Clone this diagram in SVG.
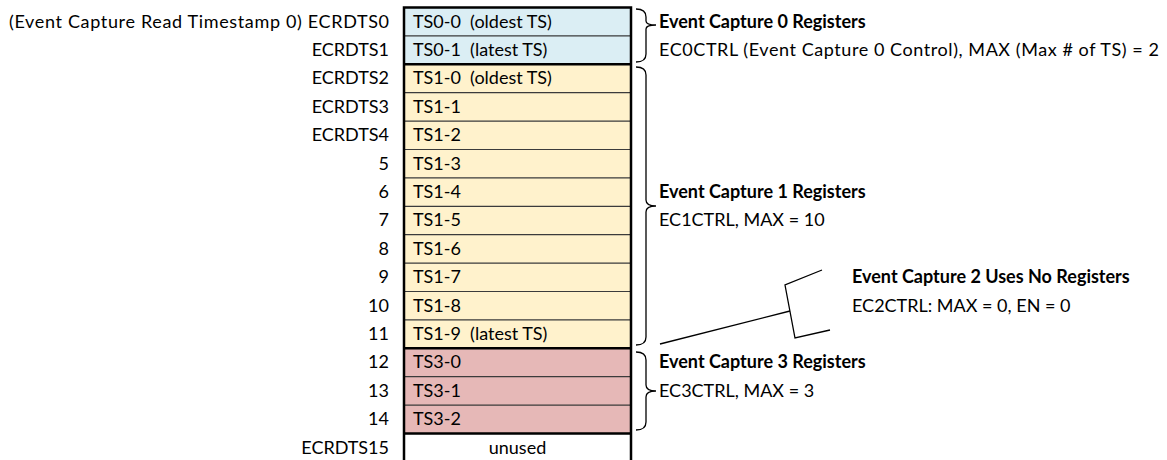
<svg xmlns="http://www.w3.org/2000/svg" width="1167" height="460" viewBox="0 0 1167 460">
<style>
text{font-family:Lato,"Open Sans",sans-serif;font-size:18px;fill:#000;white-space:pre}
.b{font-weight:bold}
.lbl{text-anchor:end}
.c0{fill:#DBEEF4}
.c1{fill:#FFF2CC}
.c3{fill:#E6B8B7}
.cu{fill:#FFFFFF}
.sep{stroke:#3b3b3b;stroke-width:1.2;fill:none}
.thick{stroke:#000;stroke-width:2.5;fill:none}
.br{stroke:#000;stroke-width:1.3;fill:none}
</style>
<g id="table">
<rect class="c0" x="404" y="7.5" width="227" height="56.8"/>
<rect class="c1" x="404" y="64.3" width="227" height="284"/>
<rect class="c3" x="404" y="348.3" width="227" height="85.2"/>
<rect class="cu" x="404" y="433.5" width="227" height="30"/>
<path class="sep" d="M404,35.9H631M404,92.7H631M404,121.1H631M404,149.5H631M404,177.9H631M404,206.3H631M404,234.7H631M404,263.1H631M404,291.5H631M404,319.9H631M404,376.7H631M404,405.1H631"/>
<path class="thick" d="M404,7.5H631M404,64.3H631M404,348.3H631M404,433.5H631M404,6.3V462M631,6.3V462"/>
</g>
<g id="row0"><text class="lbl" x="389" y="27.5" textLength="380">(Event Capture Read Timestamp 0) ECRDTS0</text><text x="413" y="27.5" xml:space="preserve">TS0-0  (oldest TS)</text></g>
<g id="row1"><text class="lbl" x="389" y="55.9">ECRDTS1</text><text x="413" y="55.9" xml:space="preserve">TS0-1  (latest TS)</text></g>
<g id="row2"><text class="lbl" x="389" y="84.3">ECRDTS2</text><text x="413" y="84.3" xml:space="preserve">TS1-0  (oldest TS)</text></g>
<g id="row3"><text class="lbl" x="389" y="112.7">ECRDTS3</text><text x="413" y="112.7">TS1-1</text></g>
<g id="row4"><text class="lbl" x="389" y="141.1">ECRDTS4</text><text x="413" y="141.1">TS1-2</text></g>
<g id="row5"><text class="lbl" x="389" y="169.5">5</text><text x="413" y="169.5">TS1-3</text></g>
<g id="row6"><text class="lbl" x="389" y="197.9">6</text><text x="413" y="197.9">TS1-4</text></g>
<g id="row7"><text class="lbl" x="389" y="226.3">7</text><text x="413" y="226.3">TS1-5</text></g>
<g id="row8"><text class="lbl" x="389" y="254.7">8</text><text x="413" y="254.7">TS1-6</text></g>
<g id="row9"><text class="lbl" x="389" y="283.1">9</text><text x="413" y="283.1">TS1-7</text></g>
<g id="row10"><text class="lbl" x="389" y="311.5">10</text><text x="413" y="311.5">TS1-8</text></g>
<g id="row11"><text class="lbl" x="389" y="339.9">11</text><text x="413" y="339.9" xml:space="preserve">TS1-9  (latest TS)</text></g>
<g id="row12"><text class="lbl" x="389" y="368.3">12</text><text x="413" y="368.3">TS3-0</text></g>
<g id="row13"><text class="lbl" x="389" y="396.7">13</text><text x="413" y="396.7">TS3-1</text></g>
<g id="row14"><text class="lbl" x="389" y="425.1">14</text><text x="413" y="425.1">TS3-2</text></g>
<g id="row15"><text class="lbl" x="389" y="453.5">ECRDTS15</text><text x="517.5" y="453.5" text-anchor="middle">unused</text></g>
<g id="ec0"><text class="b" x="659" y="27.5">Event Capture 0 Registers</text><text x="659" y="55.9" textLength="500">EC0CTRL (Event Capture 0 Control), MAX (Max # of TS) = 2</text></g>
<g id="ec1"><text class="b" x="659" y="197.9">Event Capture 1 Registers</text><text x="659" y="226.3">EC1CTRL, MAX = 10</text></g>
<g id="ec2"><text class="b" x="852" y="283.1">Event Capture 2 Uses No Registers</text><text x="852" y="311.5">EC2CTRL: MAX = 0, EN = 0</text></g>
<g id="ec3"><text class="b" x="659" y="368.3">Event Capture 3 Registers</text><text x="659" y="396.7">EC3CTRL, MAX = 3</text></g>
<g id="connectors">
<path class="br" d="M636,9Q646,9 646,17V21Q646,25 656,25Q646,25 646,29V54Q646,62 636,62"/>
<path class="br" d="M636,67Q646,67 646,75V200Q646,206 656,206Q646,206 646,212V337Q646,345 636,345"/>
<path class="br" d="M636,352Q646,352 646,360V385Q646,391 656,391Q646,391 646,397V422Q646,430 636,430"/>
<path class="br" d="M822,270L785,285L795,338L830,330"/>
<path class="br" d="M660,344L790,311"/>
</g>
</svg>
